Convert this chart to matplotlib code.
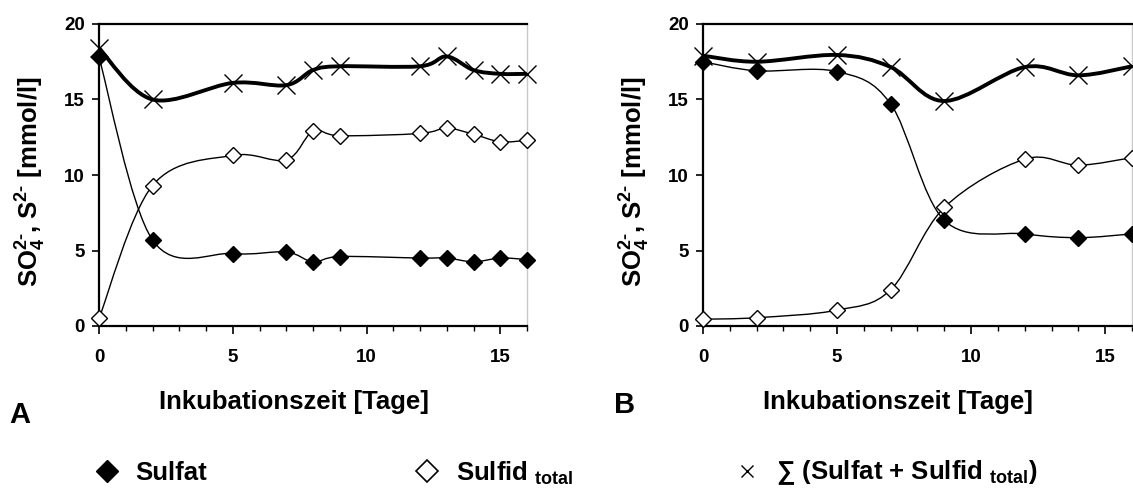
import matplotlib
matplotlib.use("Agg")
import matplotlib.pyplot as plt
import numpy as np
from matplotlib.path import Path
from matplotlib.patches import PathPatch
from matplotlib.lines import Line2D
from matplotlib.ticker import MultipleLocator

plt.rcParams['font.family'] = ['Liberation Sans', 'DejaVu Sans']
plt.rcParams['font.weight'] = 'bold'
plt.rcParams['mathtext.fontset'] = 'custom'
plt.rcParams['mathtext.rm'] = 'Liberation Sans:bold'
plt.rcParams['mathtext.it'] = 'Liberation Sans:bold'
plt.rcParams['mathtext.bf'] = 'Liberation Sans:bold'
plt.rcParams['mathtext.default'] = 'rm'

# Panel A data
days_a = [0, 2, 5, 7, 8, 9, 12, 13, 14, 15, 16]
sulfat_a = [17.8, 5.7, 4.8, 4.9, 4.25, 4.6, 4.5, 4.5, 4.25, 4.5, 4.4]
sulfid_a = [0.5, 9.3, 11.3, 11.0, 12.9, 12.6, 12.75, 13.1, 12.7, 12.2, 12.3]
summe_a = [18.4, 15.0, 16.1, 15.95, 16.95, 17.2, 17.2, 17.85, 16.95, 16.7, 16.7]

# Panel B data
days_b = [0, 2, 5, 7, 9, 12, 14, 16]
sulfat_b = [17.5, 16.9, 16.85, 14.7, 7.0, 6.1, 5.85, 6.1]
sulfid_b = [0.45, 0.55, 1.05, 2.4, 7.85, 11.05, 10.65, 11.15]
summe_b = [17.9, 17.5, 17.95, 17.15, 14.9, 17.15, 16.6, 17.2]

xlabel = 'Inkubationszeit [Tage]'
ylabel = r'SO$_4^{\text{2-}}$, S$^{\text{2-}}$ [mmol/l]'


def smooth_path(x, y):
    # Excel-style smoothed line (Catmull-Rom as cubic Bezier segments)
    pts = np.column_stack([x, y]).astype(float)
    n = len(pts)
    verts = [pts[0]]
    codes = [Path.MOVETO]
    for i in range(n - 1):
        p0 = pts[max(i - 1, 0)]
        p1 = pts[i]
        p2 = pts[i + 1]
        p3 = pts[min(i + 2, n - 1)]
        verts += [p1 + (p2 - p0) / 6, p2 - (p3 - p1) / 6, p2]
        codes += [Path.CURVE4] * 3
    return Path(verts, codes)


def draw_panel(ax, days, sulfat, sulfid, summe):
    ax.add_patch(PathPatch(smooth_path(days, sulfat), fill=False, ec='black', lw=1.0))
    ax.add_patch(PathPatch(smooth_path(days, sulfid), fill=False, ec='black', lw=1.0))
    ax.add_patch(PathPatch(smooth_path(days, summe), fill=False, ec='black', lw=2.8))
    ax.plot(days, summe, ls='none', marker='x', ms=13, mew=1.0, color='black', clip_on=False, zorder=4)
    ax.plot(days, sulfid, ls='none', marker='D', ms=8.5, mfc='white', mec='black', mew=1.0,
            clip_on=False, zorder=5)
    ax.plot(days, sulfat, ls='none', marker='D', ms=8.5, mfc='black', mec='black', mew=1.0,
            clip_on=False, zorder=6)

    ax.set_xlim(0, 16)
    ax.set_ylim(0, 20)
    ax.xaxis.set_major_locator(MultipleLocator(5))
    ax.xaxis.set_minor_locator(MultipleLocator(1))
    ax.yaxis.set_major_locator(MultipleLocator(5))
    ax.tick_params(axis='x', which='major', direction='out', length=5.5, width=1.2, pad=11,
                   labelsize=13.5)
    ax.tick_params(axis='x', which='minor', direction='out', length=3.5, width=1.0)
    ax.tick_params(axis='y', which='major', direction='out', length=5, width=1.2, pad=5,
                   labelsize=13.5)
    for lab in ax.get_xticklabels() + ax.get_yticklabels():
        lab.set_fontweight('bold')
    for side in ['left', 'bottom', 'top']:
        ax.spines[side].set_linewidth(1.6)
    ax.spines['right'].set_color('#c8c8c8')
    ax.spines['right'].set_linewidth(1.0)

    ax.set_xlabel(xlabel, fontsize=18.5, fontweight='bold', va='center')
    ax.xaxis.set_label_coords(0.455, -0.25)
    ax.set_ylabel(ylabel, fontsize=18.5, fontweight='bold', va='center')
    ax.yaxis.set_label_coords(-0.158, 0.477)


fig = plt.figure(figsize=(11.33, 4.91), dpi=100)
ax_a = fig.add_axes([99 / 1133, 1 - 326 / 491, 428 / 1133, 302 / 491])
ax_b = fig.add_axes([703 / 1133, 1 - 326 / 491, 429 / 1133, 302 / 491])

draw_panel(ax_a, days_a, sulfat_a, sulfid_a, summe_a)
draw_panel(ax_b, days_b, sulfat_b, sulfid_b, summe_b)

fig.text(20 / 1133, 1 - 415 / 491, 'A', fontsize=21, fontweight='bold', ha='center', va='center')
fig.text(625 / 1133, 1 - 405 / 491, 'B', fontsize=21, fontweight='bold', ha='center', va='center')

# Legend row
h_sulfat = Line2D([], [], ls='none', marker='D', ms=11, mfc='black', mec='black')
h_sulfid = Line2D([], [], ls='none', marker='D', ms=11, mfc='white', mec='black', mew=1.2)
h_summe = Line2D([], [], ls='none', marker='x', ms=9, mew=1.0, color='black')
entries = [
    (h_sulfat, 'Sulfat', 92 / 1133),
    (h_sulfid, r'Sulfid $_{total}$', 412 / 1133),
    (h_summe, r'∑ (Sulfat + Sulfid $_{total}$)', 732 / 1133),
]
for handle, label, xpos in entries:
    fig.legend([handle], [label], loc='center left', bbox_to_anchor=(xpos, 1 - 473 / 491),
               frameon=False, handlelength=1.2, handletextpad=0.5,
               borderpad=0, borderaxespad=0, prop={'weight': 'bold', 'size': 18.5})

fig.savefig('out.png', dpi=100)
